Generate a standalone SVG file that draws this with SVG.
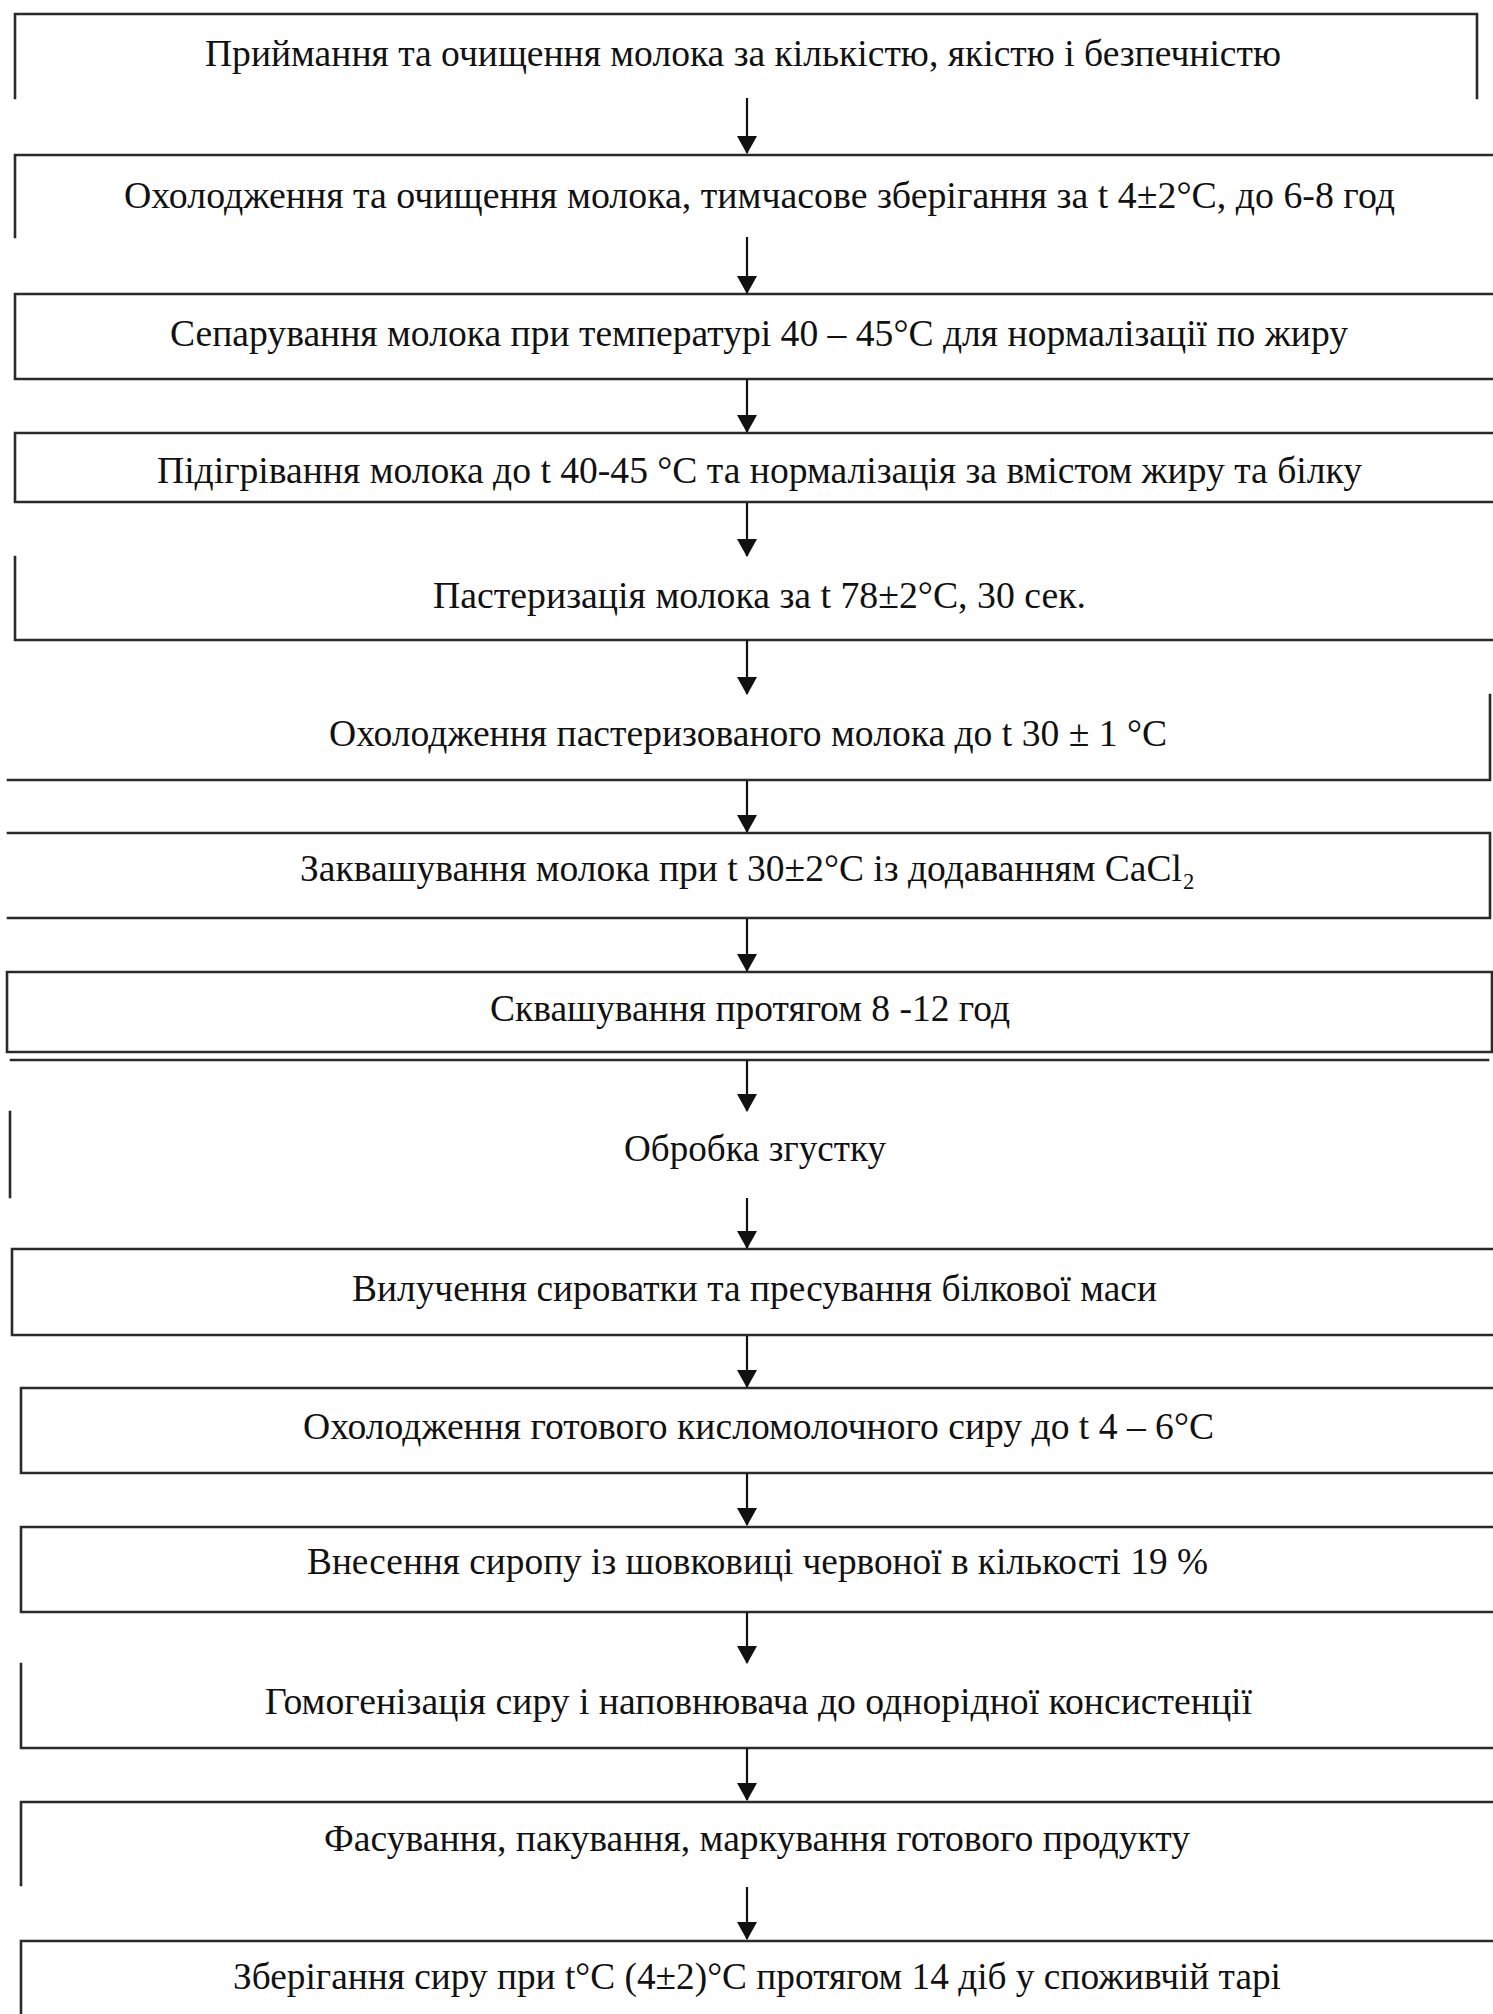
<svg xmlns="http://www.w3.org/2000/svg" width="1493" height="2014" viewBox="0 0 1493 2014">
<style>
.b{fill:none;stroke:#2a2a2a;stroke-width:2.6;stroke-linecap:square}
.t{font-family:"Liberation Serif","Times New Roman",serif;font-size:38px;fill:#111}
.c{stroke:#111;stroke-width:2.2;fill:none}
</style>
<defs>
<marker id="ah" markerUnits="userSpaceOnUse" markerWidth="18" markerHeight="20" refX="17" refY="10" orient="auto" viewBox="0 0 18 20">
<path d="M0,0 L18,10 L0,20 Z" fill="#111"/>
</marker>
</defs>
<rect width="1493" height="2014" fill="#fff"/>

<g id="n1"><path class="b" d="M15,98 V14 H1477 V98"/><text class="t" x="205" y="66" textLength="1076" lengthAdjust="spacingAndGlyphs">Приймання та очищення молока за кількістю, якістю і безпечністю</text></g>
<g id="n2"><path class="b" d="M15,237 V155 H1493"/><text class="t" x="124" y="208" textLength="1271" lengthAdjust="spacingAndGlyphs">Охолодження та очищення молока, тимчасове зберігання за t 4±2°С, до 6-8 год</text></g>
<g id="n3"><path class="b" d="M1493,294 H15 V379 H1493"/><text class="t" x="170" y="346" textLength="1178" lengthAdjust="spacingAndGlyphs">Сепарування молока при температурі 40 – 45°С для нормалізації по жиру</text></g>
<g id="n4"><path class="b" d="M1493,433 H15 V502 H1493"/><text class="t" x="157" y="483" textLength="1205" lengthAdjust="spacingAndGlyphs">Підігрівання молока до t 40-45 °С та нормалізація за вмістом жиру та білку</text></g>
<g id="n5"><path class="b" d="M15,557 V640 H1493"/><text class="t" x="433" y="608" textLength="653" lengthAdjust="spacingAndGlyphs">Пастеризація молока за  t 78±2°С, 30 сек.</text></g>
<g id="n6"><path class="b" d="M8,780 H1490 V695"/><text class="t" x="329" y="746" textLength="838" lengthAdjust="spacingAndGlyphs">Охолодження пастеризованого молока до t 30 ± 1 °С</text></g>
<g id="n7"><path class="b" d="M8,833 H1490 V918 H8"/><text class="t" x="300" y="881" textLength="895" lengthAdjust="spacingAndGlyphs">Заквашування молока при t 30±2°С із додаванням CaCl₂</text></g>
<g id="n8"><path class="b" d="M7,972 H1492 V1052 H7 Z"/><path class="b" d="M11,1060 H1488"/><text class="t" x="490" y="1021" textLength="520" lengthAdjust="spacingAndGlyphs">Сквашування протягом 8 -12 год</text></g>
<g id="n9"><path class="b" d="M10,1112 V1197"/><text class="t" x="624" y="1161" textLength="262" lengthAdjust="spacingAndGlyphs">Обробка згустку</text></g>
<g id="n10"><path class="b" d="M1493,1249 H12 V1335 H1493"/><text class="t" x="352" y="1301" textLength="805" lengthAdjust="spacingAndGlyphs">Вилучення сироватки та пресування білкової маси</text></g>
<g id="n11"><path class="b" d="M1493,1388 H21 V1473 H1493"/><text class="t" x="303" y="1439" textLength="911" lengthAdjust="spacingAndGlyphs">Охолодження готового кисломолочного сиру до t 4 – 6°С</text></g>
<g id="n12"><path class="b" d="M1493,1527 H21 V1612 H1493"/><text class="t" x="307" y="1574" textLength="901" lengthAdjust="spacingAndGlyphs">Внесення сиропу із шовковиці червоної в кількості 19 %</text></g>
<g id="n13"><path class="b" d="M21,1664 V1748 H1493"/><text class="t" x="265" y="1714" textLength="987" lengthAdjust="spacingAndGlyphs">Гомогенізація сиру і наповнювача до однорідної консистенції</text></g>
<g id="n14"><path class="b" d="M21,1885 V1802 H1493"/><text class="t" x="324" y="1851" textLength="866" lengthAdjust="spacingAndGlyphs">Фасування, пакування, маркування готового продукту</text></g>
<g id="n15"><path class="b" d="M21,2016 V1941 H1493"/><text class="t" x="233" y="1989" textLength="1048" lengthAdjust="spacingAndGlyphs">Зберігання сиру при t°С (4±2)°С протягом 14 діб у споживчій тарі</text></g>

<g id="connectors">
<path class="c" marker-end="url(#ah)" d="M747,98 V153"/>
<path class="c" marker-end="url(#ah)" d="M747,237 V293"/>
<path class="c" marker-end="url(#ah)" d="M747,379 V432"/>
<path class="c" marker-end="url(#ah)" d="M747,503 V556"/>
<path class="c" marker-end="url(#ah)" d="M747,640 V694"/>
<path class="c" marker-end="url(#ah)" d="M747,781 V832"/>
<path class="c" marker-end="url(#ah)" d="M747,919 V971"/>
<path class="c" marker-end="url(#ah)" d="M747,1060 V1111"/>
<path class="c" marker-end="url(#ah)" d="M747,1198 V1248"/>
<path class="c" marker-end="url(#ah)" d="M747,1336 V1387"/>
<path class="c" marker-end="url(#ah)" d="M747,1473 V1525"/>
<path class="c" marker-end="url(#ah)" d="M747,1612 V1663"/>
<path class="c" marker-end="url(#ah)" d="M747,1748 V1800"/>
<path class="c" marker-end="url(#ah)" d="M747,1887 V1939"/>
</g>
</svg>
